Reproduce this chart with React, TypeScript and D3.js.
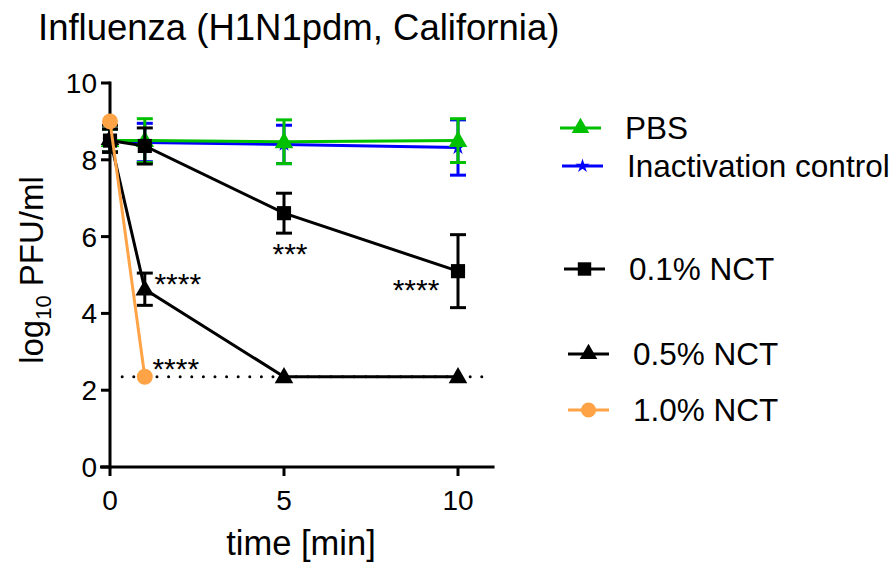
import * as d3 from "d3";
import { useRef, useEffect } from "react";

// time points (min)
const times = [0, 1, 5, 10];

// mean log10 PFU/ml and error (SD) per series
const pbsMean = [8.5, 8.5, 8.47, 8.5];
const pbsErr = [0.3, 0.57, 0.57, 0.57];
const inactMean = [8.5, 8.45, 8.4, 8.32];
const inactErr = [0.3, 0.5, 0.5, 0.72];
const nct01Mean = [8.5, 8.36, 6.61, 5.1];
const nct01Err = [0.3, 0.47, 0.52, 0.95];
const nct05Mean = [8.55, 4.63, 2.35, 2.35];
const nct05Err = [0.35, 0.42, 0, 0];
const nct10Times = [0, 1];
const nct10Mean = [9.0, 2.35];

const detectionLimit = 2.35;
const yTicks = [0, 2, 4, 6, 8, 10];
const xTicks = [0, 5, 10];

const App = () => {
    const ref = useRef(null);

    useEffect(() => {
        const svg = d3.select(ref.current);
        svg.selectAll("*").remove();

        const font = "'Liberation Sans', Arial, sans-serif";
        const x = d3.scaleLinear().domain([0, 10]).range([110, 458]);
        const y = d3.scaleLinear().domain([0, 10]).range([467, 83]);

        // title
        svg.append("text").attr("x", 38).attr("y", 40)
           .attr("font-size", 36.5).attr("font-family", font)
           .text("Influenza (H1N1pdm, California)");

        // detection limit
        svg.append("line")
           .attr("x1", x(0.35)).attr("x2", x(11))
           .attr("y1", y(detectionLimit)).attr("y2", y(detectionLimit))
           .attr("stroke", "#000").attr("stroke-width", 3)
           .attr("stroke-dasharray", "0 11.6").attr("stroke-linecap", "round");

        // axes
        const ax = svg.append("g").attr("stroke", "#000").attr("stroke-width", 3);
        ax.append("line").attr("x1", x(0)).attr("x2", x(0)).attr("y1", y(10) - 1.5).attr("y2", y(0) + 1.5);
        ax.append("line").attr("x1", x(0) - 10).attr("x2", x(11.05)).attr("y1", y(0)).attr("y2", y(0));
        yTicks.forEach(t => {
            ax.append("line").attr("x1", x(0) - 9).attr("x2", x(0)).attr("y1", y(t)).attr("y2", y(t));
            svg.append("text").attr("x", 97).attr("y", y(t) + 10)
               .attr("text-anchor", "end").attr("font-size", 28).attr("font-family", font)
               .text(t);
        });
        xTicks.forEach(t => {
            ax.append("line").attr("x1", x(t)).attr("x2", x(t)).attr("y1", y(0)).attr("y2", y(0) + 9);
            svg.append("text").attr("x", x(t)).attr("y", 510)
               .attr("text-anchor", "middle").attr("font-size", 28).attr("font-family", font)
               .text(t);
        });

        svg.append("text").attr("x", 301).attr("y", 555)
           .attr("text-anchor", "middle").attr("font-size", 34.5).attr("font-family", font)
           .text("time [min]");

        const yl = svg.append("text")
           .attr("transform", "translate(43, 270) rotate(-90)")
           .attr("text-anchor", "middle").attr("font-size", 33).attr("font-family", font);
        yl.append("tspan").text("log");
        yl.append("tspan").attr("font-size", 22).attr("dy", 8).text("10");
        yl.append("tspan").attr("dy", -8).text(" PFU/ml");

        const line = d3.line().x(d => x(d[0])).y(d => y(d[1]));

        const series = [
            { name: "Inactivation control", color: "#0000ff", mean: inactMean, err: inactErr, ts: times, sym: d3.symbolStar, size: 70 },
            { name: "PBS", color: "#00c000", mean: pbsMean, err: pbsErr, ts: times, sym: d3.symbolTriangle, size: 150 },
            { name: "0.1% NCT", color: "#000000", mean: nct01Mean, err: nct01Err, ts: times, sym: d3.symbolSquare, size: 200 },
            { name: "0.5% NCT", color: "#000000", mean: nct05Mean, err: nct05Err, ts: times, sym: d3.symbolTriangle, size: 150 },
            { name: "1.0% NCT", color: "#ffa347", mean: nct10Mean, err: null, ts: nct10Times, sym: d3.symbolCircle, size: 200 },
        ];

        series.forEach(s => {
            const g = svg.append("g");
            const pts = s.ts.map((t, i) => [t, s.mean[i]]);
            g.append("path").attr("d", line(pts)).attr("fill", "none")
             .attr("stroke", s.color).attr("stroke-width", 3);
            if (s.err) {
                s.ts.forEach((t, i) => {
                    const e = s.err[i];
                    if (!e) return;
                    const cx = x(t);
                    const lo = y(s.mean[i] - e), hi = y(s.mean[i] + e);
                    g.append("line").attr("x1", cx).attr("x2", cx).attr("y1", lo).attr("y2", hi)
                     .attr("stroke", s.color).attr("stroke-width", 3);
                    [lo, hi].forEach(v => {
                        g.append("line").attr("x1", cx - 8).attr("x2", cx + 8).attr("y1", v).attr("y2", v)
                         .attr("stroke", s.color).attr("stroke-width", 3);
                    });
                });
            }
            pts.forEach(p => {
                g.append("path").attr("d", d3.symbol().type(s.sym).size(s.size)())
                 .attr("transform", `translate(${x(p[0])}, ${y(p[1]) + (s.sym === d3.symbolTriangle ? 1 : 0)})`)
                 .attr("fill", s.color);
            });
        });

        // significance marks
        const marks = [
            { t: 1, v: nct05Mean[1], dx: 33, dy: 5, text: "****" },
            { t: 5, v: nct01Mean[2], dx: 6, dy: 51, text: "***" },
            { t: 10, v: nct01Mean[3], dx: -42, dy: 29, text: "****" },
            { t: 1, v: nct10Mean[1], dx: 31, dy: 2, text: "****" },
        ];
        marks.forEach(m => {
            svg.append("text").attr("x", x(m.t) + m.dx).attr("y", y(m.v) + m.dy)
               .attr("text-anchor", "middle").attr("font-size", 30).attr("font-family", font)
               .text(m.text);
        });

        // legend
        const legend = [
            { s: series[1], x: 560, y: 128 },
            { s: series[0], x: 562, y: 166 },
            { s: series[2], x: 564, y: 269 },
            { s: series[3], x: 568, y: 354 },
            { s: series[4], x: 568, y: 410 },
        ];
        legend.forEach(l => {
            svg.append("line").attr("x1", l.x).attr("x2", l.x + 41).attr("y1", l.y).attr("y2", l.y)
               .attr("stroke", l.s.color).attr("stroke-width", 3);
            svg.append("path").attr("d", d3.symbol().type(l.s.sym).size(l.s.size * 0.9)())
               .attr("transform", `translate(${l.x + 20.5}, ${l.y})`).attr("fill", l.s.color);
            svg.append("text").attr("x", l.x + 65).attr("y", l.y + 11)
               .attr("font-size", 31.5).attr("font-family", font).text(l.s.name);
        });
    }, []);

    return (
        <svg ref={ref} width={893} height={566}
             style={{ position: "absolute", left: 0, top: 0, background: "#fff" }}></svg>
    );
};

export default App;
